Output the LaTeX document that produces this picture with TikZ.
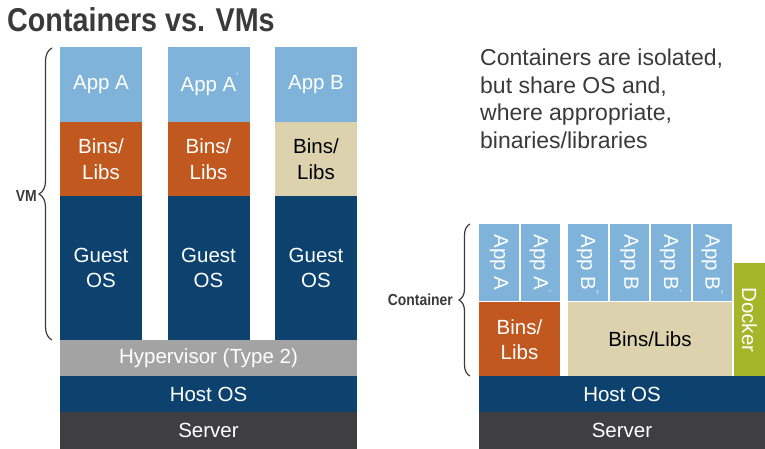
\documentclass[tikz,border=0pt]{standalone}
\usepackage{fontspec}
\setmainfont{Liberation Sans}
\newfontfamily\headfont[FakeStretch=0.87]{Liberation Sans}
\usetikzlibrary{decorations.pathreplacing}

\definecolor{appblue}{HTML}{7FB3DA}
\definecolor{binorange}{HTML}{C0581F}
\definecolor{navy}{HTML}{0D426F}
\definecolor{beige}{HTML}{DCD3AE}
\definecolor{hypgray}{HTML}{A3A3A3}
\definecolor{servergray}{HTML}{3F3F41}
\definecolor{dockergreen}{HTML}{A6B52A}
\definecolor{inkgray}{HTML}{3A3A3A}

\tikzset{
  layer/.style={inner sep=0pt, outer sep=0pt, anchor=north west, align=center,
    text=white, font=\fontsize{20.5}{25.5}\selectfont},
  bracepath/.style={decorate, draw=inkgray, line width=1.2pt},
  sidelabel/.style={anchor=east, inner sep=0pt, text=inkgray,
    font=\headfont\bfseries\fontsize{16}{18}\selectfont},
  note/.style={anchor=base west, inner sep=0pt, text=inkgray,
    font=\fontsize{23}{27.5}\selectfont},
}
% small prime marks that do not shift the centred label
\newcommand{\tick}{\rlap{\raisebox{0.55em}{\fontsize{9}{9}\selectfont\textquotesingle}}}
\newcommand{\ticks}{\rlap{\raisebox{0.55em}{\fontsize{9}{9}\selectfont\textquotesingle\textquotesingle}}}

\begin{document}
\begin{tikzpicture}[x=1pt,y=-1pt]
\useasboundingbox (0,0) rectangle (765,449);

% Title
\node[anchor=base west, inner sep=0pt, text=inkgray,
      font=\headfont\bfseries\fontsize{33}{36}\selectfont] (title) at (7,32) {Containers vs. VMs};

% ---------- Virtual machines ----------
\foreach \n/\x/\app/\bins/\btext in {1/60/{App A}/binorange/white, 2/167.5/{App A\tick}/binorange/white, 3/275/{App B}/beige/black}{
  \node[layer, fill=appblue, minimum width=82pt, minimum height=75pt] (vapp\n) at (\x,47) {\app};
  \node[layer, fill=\bins, text=\btext, minimum width=82pt, minimum height=74pt] (vbin\n) at (\x,122) {Bins/\\Libs};
  \node[layer, fill=navy, minimum width=82pt, minimum height=144pt] (vos\n) at (\x,196) {Guest\\OS};
}
\node[layer, fill=hypgray, minimum width=297pt, minimum height=36pt] (hyp) at (60,340) {Hypervisor (Type 2)};
\node[layer, fill=navy, minimum width=297pt, minimum height=36pt] (vhost) at (60,376) {Host OS};
\node[layer, fill=servergray, minimum width=297pt, minimum height=37pt] (vserver) at (60,412) {Server};

\coordinate (vmtop) at (52,48);
\coordinate (vmbot) at (52,340);
\draw[bracepath, decoration={brace, amplitude=13pt}] (vmbot) -- (vmtop);
\node[sidelabel] (vmlabel) at (37,196) {VM};

% ---------- Containers ----------
\node[note] (n1) at (480,66) {Containers are isolated,};
\node[note] (n2) at (480,93.5) {but share OS and,};
\node[note] (n3) at (480,121) {where appropriate,};
\node[note] (n4) at (480,148.5) {binaries/libraries};

\foreach \n/\x/\w/\app in {1/479/40/{App A}, 2/521/39/{App A\tick}, 3/568/39.5/{App B\ticks},
                           4/609.5/39.5/{App B}, 5/651/39.5/{App B\tick}, 6/692.5/39.5/{App B\ticks}}{
  \node[layer, fill=appblue, minimum width=\w pt, minimum height=77pt] (capp\n) at (\x,224)
    {\rotatebox{-90}{\app}};
}
\node[layer, fill=binorange, minimum width=81pt, minimum height=75pt] (cbin1) at (479,302) {Bins/\\Libs};
\node[layer, fill=beige, text=black, minimum width=164pt, minimum height=75pt] (cbin2) at (568,302) {Bins/Libs};
\node[layer, fill=dockergreen, minimum width=31pt, minimum height=114pt] (docker) at (734,263)
  {\rotatebox{-90}{Docker}};
\node[layer, fill=navy, minimum width=286pt, minimum height=36pt] (chost) at (479,376) {Host OS};
\node[layer, fill=servergray, minimum width=286pt, minimum height=37pt] (cserver) at (479,412) {Server};

\coordinate (ctop) at (470,224);
\coordinate (cbot) at (470,376);
\draw[bracepath, decoration={brace, amplitude=11pt}] (cbot) -- (ctop);
\node[sidelabel] (clabel) at (453,300) {Container};
\end{tikzpicture}
\end{document}
